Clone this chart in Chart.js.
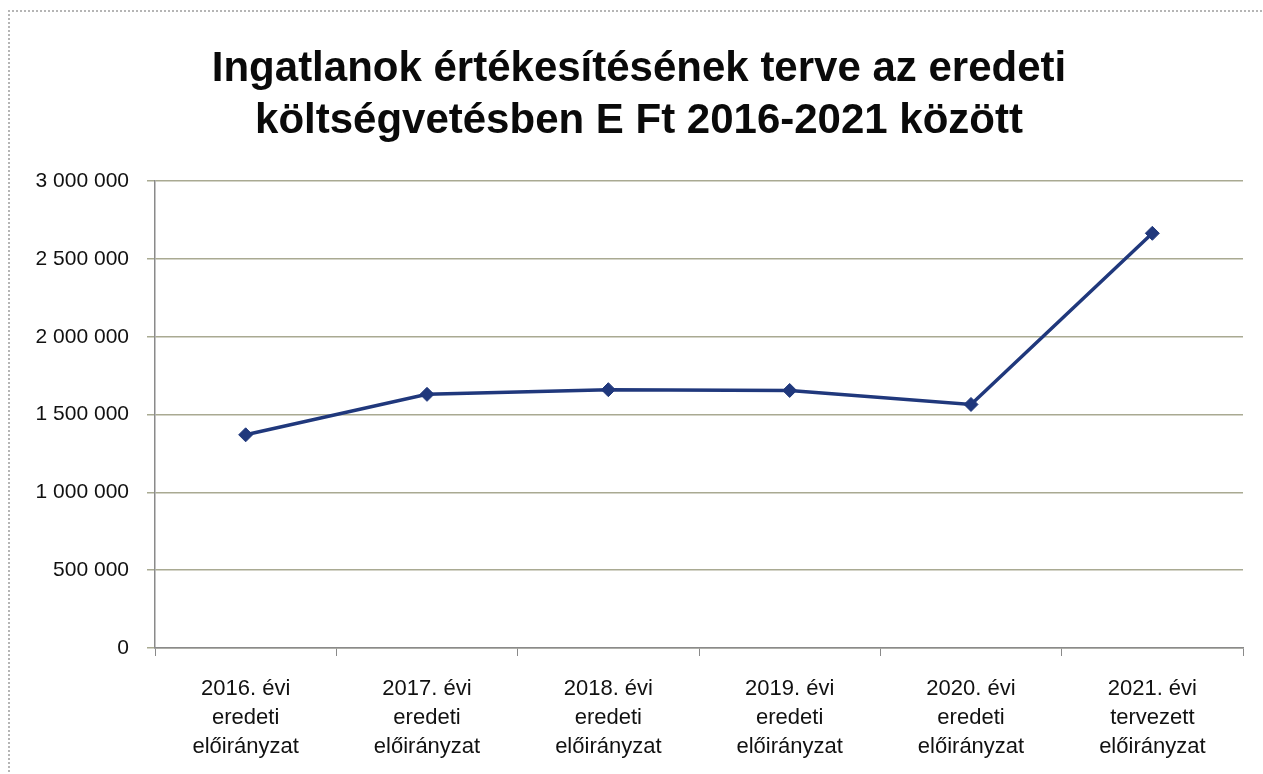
<!DOCTYPE html>
<html>
<head>
<meta charset="utf-8">
<script src="https://cdn.jsdelivr.net/npm/chart.js@4/dist/chart.umd.min.js"></script>
<style>
body { margin: 0; background: #fff; }
#keret { position: absolute; left: 8px; top: 10px; width: 1300px; height: 800px; border-top: 2px dotted #b5b5b5; border-left: 2px dotted #b5b5b5; }
#doboz { position: absolute; left: 0; top: 0; width: 1263px; height: 774px; }
</style>
</head>
<body>
<div id="keret"></div>
<div id="doboz"><canvas id="lineChart" width="1263" height="774"></canvas></div>
<script>
var cimsorok = ['Ingatlanok értékesítésének terve az eredeti', 'költségvetésben E Ft 2016-2021 között']
var kategoriak = [
    ['2016. évi', 'eredeti', 'előirányzat'],
    ['2017. évi', 'eredeti', 'előirányzat'],
    ['2018. évi', 'eredeti', 'előirányzat'],
    ['2019. évi', 'eredeti', 'előirányzat'],
    ['2020. évi', 'eredeti', 'előirányzat'],
    ['2021. évi', 'tervezett', 'előirányzat']
]
var ertekek = [1370000, 1630000, 1660000, 1655000, 1565000, 2665000]
var yMin = 0
var yMax = 3000000
var yLepes = 500000

function szamFormat(v) {
    return String(v).replace(/\B(?=(\d{3})+(?!\d))/g, ' ')
}

var ctx = document.getElementById('lineChart').getContext('2d')
var myLineChart = new Chart(ctx, {
    type: 'line',
    data: {
        labels: kategoriak,
        datasets: [
            {
                data: ertekek,
                borderColor: '#20387c',
                backgroundColor: '#20387c',
                borderWidth: 3.5,
                pointStyle: 'rectRot',
                pointRadius: 7,
                pointBorderWidth: 1,
                tension: 0
            }
        ]
    },
    options: {
        responsive: false,
        animation: false,
        // bal padding: a cim kozepe igy kerul a helyere
        layout: { padding: { left: 35, right: 20, top: 0, bottom: 0 } },
        plugins: {
            legend: { display: false },
            tooltip: { enabled: false },
            title: {
                display: true,
                text: cimsorok,
                color: '#0a0a0a',
                font: { family: 'Liberation Sans', size: 42, weight: 'bold', lineHeight: 1.24 },
                padding: { top: 43, bottom: 34 }
            }
        },
        scales: {
            x: {
                offset: true,
                grid: { drawOnChartArea: false, offset: true, tickLength: 8, color: '#8a8a8a' },
                border: { color: '#8a8a8a', width: 1.5 },
                ticks: {
                    color: '#111',
                    padding: 18,
                    maxRotation: 0,
                    font: { family: 'Liberation Sans', size: 22, lineHeight: 1.32 }
                },
                afterFit: function (scale) { scale.height = 126 }
            },
            y: {
                min: yMin,
                max: yMax,
                grid: { color: '#a9aa92', lineWidth: 1.5, tickLength: 8 },
                border: { color: '#8a8a8a', width: 1.5 },
                ticks: {
                    stepSize: yLepes,
                    color: '#111',
                    padding: 18,
                    font: { family: 'Liberation Sans', size: 21 },
                    callback: function (v) { return szamFormat(v) }
                },
                afterFit: function (scale) { scale.width = 120 }
            }
        }
    }
})
</script>
</body>
</html>
